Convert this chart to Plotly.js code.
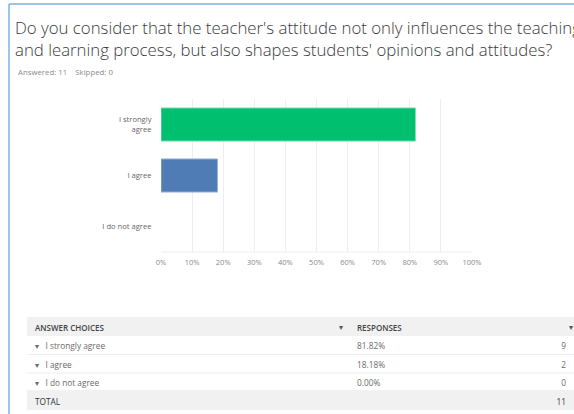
<!DOCTYPE html>
<html><head><meta charset="utf-8">
<script src="https://cdn.plot.ly/plotly-3.0.1.min.js"></script>
<style>html,body{margin:0;padding:0;background:#fff;}#chart{width:574px;height:414px;}</style>
</head><body><div id="chart"></div>
<script>
const questionText = "Do you consider that the teacher's attitude not only influences the teaching<br>and learning process, but also shapes students' opinions and attitudes?";
const answered = 11;
const skipped = 0;
const categories = ['I strongly agree', 'I agree', 'I do not agree'];
const tickLabels = ['I strongly<br>agree', 'I agree', 'I do not agree'];
const percents = [81.82, 18.18, 0.00];
const counts = [9, 2, 0];
const totalCount = 11;
const barColors = ['#00bf6f', '#507cb6', '#00bf6f'];
const barEdge = ['#7fe0b6', '#9bb6db', 'rgba(0,0,0,0)'];
const xTickVals = [0, 0.1, 0.2, 0.3, 0.4, 0.5, 0.6, 0.7, 0.8, 0.9, 1.0];
const headerLabels = ['ANSWER CHOICES', 'RESPONSES', ''];
const totalLabel = 'TOTAL';

const W = 574, H = 414;
const px = x => x / W;
const py = y => 1 - y / H;

const bar = {
  type: 'bar', orientation: 'h',
  x: percents.map(p => p / 100), y: categories,
  width: 0.65,
  marker: {color: barColors, line: {color: barEdge, width: 1}},
  hoverinfo: 'skip',
  xaxis: 'x', yaxis: 'y'
};

const col1 = categories.map(c => '\u25BE   ' + c).concat([totalLabel]);
const col2 = percents.map(p => p.toFixed(2) + '%').concat(['']);
const col3 = counts.map(String).concat([String(totalCount)]);
const rowFill = categories.map(() => '#ffffff').concat(['#f1f1f1']);
const rowLine = categories.map(() => '#ffffff').concat(['#f1f1f1']);
const cellFonts = categories.map(() => '#6a6a6a').concat(['#333333']);

const table = {
  type: 'table',
  domain: {x: [px(27), 1], y: [py(410), py(317)]},
  columnwidth: [322, 171, 54],
  header: {
    values: headerLabels,
    align: ['left', 'left', 'right'],
    fill: {color: '#f1f1f1'},
    line: {color: '#f1f1f1', width: 1},
    font: {family: 'Open Sans, sans-serif', size: 8, color: '#444444', weight: 600},
    height: 18
  },
  cells: {
    values: [col1, col2, col3],
    align: ['left', 'left', 'right'],
    fill: {color: [rowFill, rowFill, rowFill]},
    line: {color: [rowLine, rowLine, rowLine], width: 1},
    font: {family: 'Open Sans, sans-serif', size: 8.3, color: [cellFonts, cellFonts, cellFonts]},
    height: 18.6
  }
};

const layout = {
  width: W, height: H,
  margin: {l: 0, r: 0, t: 0, b: 0},
  paper_bgcolor: '#ffffff', plot_bgcolor: '#ffffff',
  showlegend: false,
  font: {family: 'Open Sans, sans-serif'},
  title: {
    text: questionText,
    x: px(15), xanchor: 'left', xref: 'paper',
    y: py(34), yanchor: 'top', yref: 'paper',
    font: {family: 'Open Sans, sans-serif', size: 16.8, color: '#3a3a3a', weight: 300}
  },
  xaxis: {
    domain: [px(161), px(472)],
    range: [0, 1],
    tickvals: xTickVals, tickformat: '.0%',
    showgrid: true, gridcolor: '#eeeeee', gridwidth: 1,
    zeroline: false, showline: false,
    ticks: '', ticklabelstandoff: 4,
    tickfont: {family: 'Open Sans, sans-serif', size: 7.5, color: '#8a8a8a'},
    fixedrange: true, anchor: 'y'
  },
  yaxis: {
    domain: [py(252), py(99)],
    type: 'category',
    categoryorder: 'array', categoryarray: categories,
    autorange: 'reversed',
    tickvals: categories, ticktext: tickLabels,
    showgrid: false, zeroline: false, showline: false,
    ticks: 'outside', ticklen: 7, tickcolor: 'rgba(0,0,0,0)',
    tickfont: {family: 'Open Sans, sans-serif', size: 7.6, color: '#666666'},
    fixedrange: true, anchor: 'x'
  },
  shapes: [
    {type: 'line', xref: 'paper', yref: 'paper', x0: px(9), x1: px(9), y0: 0, y1: py(4), line: {color: '#7fb0de', width: 1.5}},
    {type: 'line', xref: 'paper', yref: 'paper', x0: px(9), x1: 1, y0: py(4), y1: py(4), line: {color: '#7fb0de', width: 1.5}},
    {type: 'line', xref: 'paper', yref: 'paper', x0: px(161), x1: px(472), y0: py(252), y1: py(252), line: {color: '#eeeeee', width: 1}},
    {type: 'line', xref: 'paper', yref: 'paper', x0: px(27), x1: 1, y0: py(354.5), y1: py(354.5), line: {color: '#eeeeee', width: 1}},
    {type: 'line', xref: 'paper', yref: 'paper', x0: px(27), x1: 1, y0: py(373), y1: py(373), line: {color: '#eeeeee', width: 1}}
  ],
  annotations: [
    {text: 'Answered: ' + answered + '&nbsp;&nbsp;&nbsp;&nbsp;Skipped: ' + skipped, xref: 'paper', yref: 'paper',
     x: px(16), y: py(72), xanchor: 'left', yanchor: 'middle', showarrow: false,
     font: {family: 'Open Sans, sans-serif', size: 7.8, color: '#8a8a8a'}},
    {text: '\u25BE', xref: 'paper', yref: 'paper', x: px(341), y: py(326), xanchor: 'center', yanchor: 'middle', showarrow: false,
     font: {size: 8, color: '#555555'}},
    {text: '\u25BE', xref: 'paper', yref: 'paper', x: px(571), y: py(326), xanchor: 'center', yanchor: 'middle', showarrow: false,
     font: {size: 8, color: '#555555'}}
  ]
};

Plotly.newPlot('chart', [bar, table], layout, {displayModeBar: false, staticPlot: true});
</script>
</body></html>
